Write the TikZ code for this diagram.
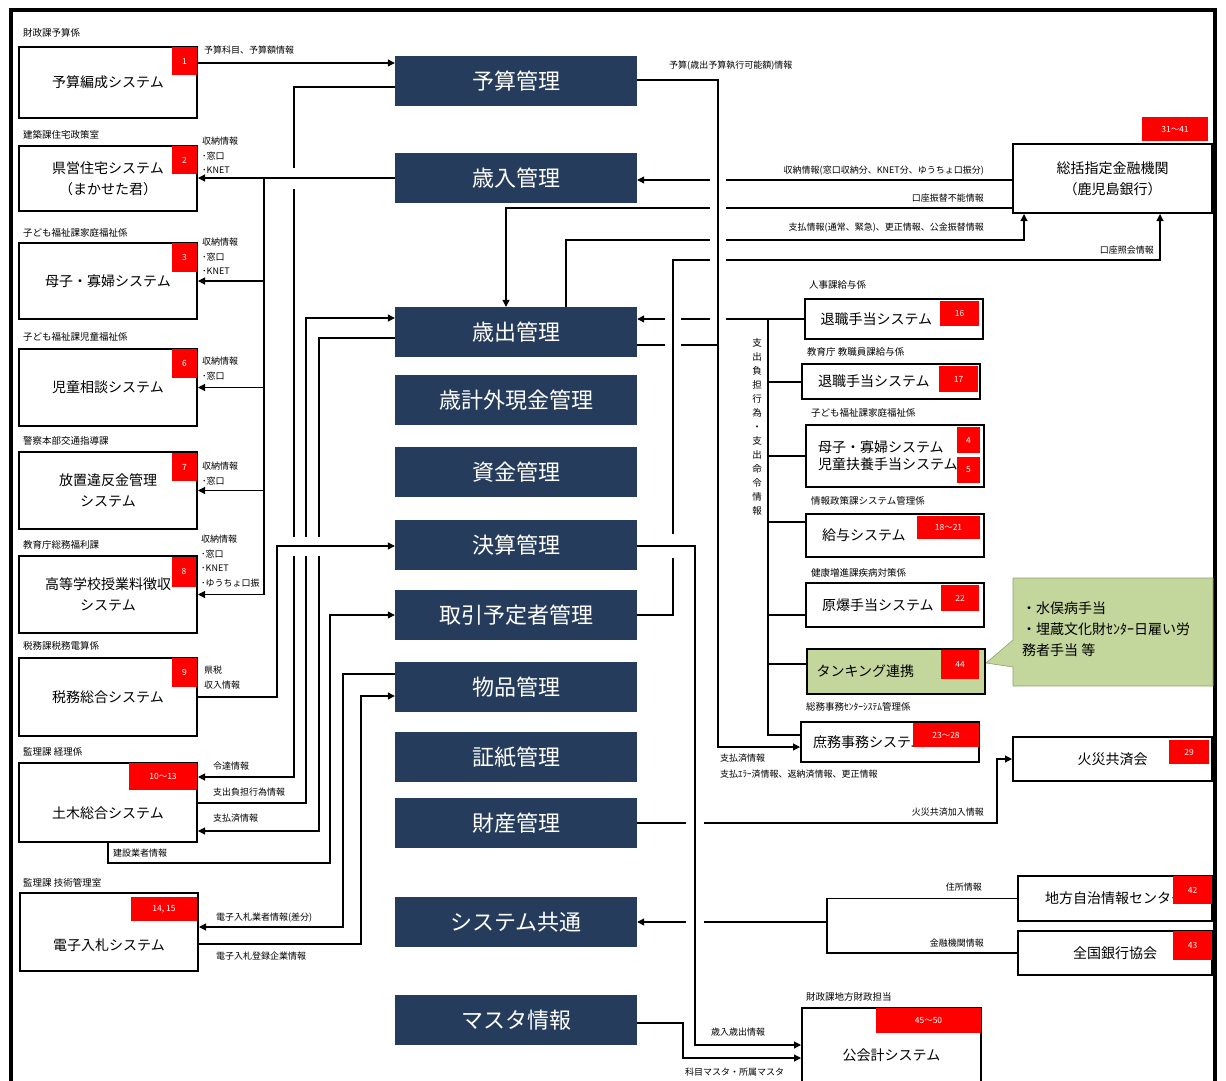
\documentclass[tikz,border=0pt]{standalone}
\usepackage{fontspec}
\setmainfont{Noto Sans CJK JP}
\usetikzlibrary{arrows.meta}
\definecolor{navy}{RGB}{38,60,92}
\definecolor{tagred}{RGB}{255,0,0}
\definecolor{tgreen}{RGB}{195,214,155}
\begin{document}
\begin{tikzpicture}[x=1pt, y=-1pt, >={Triangle[length=7pt,width=7pt]},
	conn/.style={line width=1.1pt},
	bridge/.style={white, line width=#1},
	mgmt/.style={fill=navy, text=white, minimum width=242pt, minimum height=50pt, inner sep=0pt, font=\fontsize{22}{24}\selectfont},
	sysbox/.style={draw, line width=2pt, fill=white, minimum width=178pt, inner sep=0pt, align=center, font=\fontsize{14}{21}\selectfont},
	systxt/.style={inner sep=0pt, font=\fontsize{14}{21}\selectfont},
	rbox/.style={sysbox, text width=146pt, inner xsep=16pt, align=left},
	tag/.style={fill=tagred, text=white, inner sep=0pt, font=\fontsize{8.5}{10}\selectfont},
	dept/.style={anchor=west, inner sep=1pt, font=\fontsize{9.5}{11}\selectfont},
	info/.style={inner sep=1pt, align=left, font=\fontsize{9}{14.5}\selectfont}]
	\useasboundingbox (0,0) rectangle (1226,1081);
	%frame
	\draw[line width=4pt] (11,10) rectangle (1215,1100);
	
	%management functions
	\foreach \n/\y/\t in {yosan/81/予算管理, sainyu/178/歳入管理, saishutsu/332/歳出管理, saikei/400/歳計外現金管理, shikin/472/資金管理, kessan/545/決算管理, torihiki/615/取引予定者管理, buppin/687/物品管理, shoshi/757/証紙管理, zaisan/823/財産管理, kyotsu/922/システム共通, master/1020/マスタ情報}
		\node[mgmt] (\n) at (516,\y) {\t};
	
	%left systems
	\node[sysbox, minimum height=71pt] (hensei) at (108,82.5) {予算編成システム};
	\node[sysbox, minimum height=65pt] (jutaku) at (108,178.5) {県営住宅システム\\（まかせた君）};
	\node[sysbox, minimum height=76pt] (boshi) at (108,281) {母子・寡婦システム};
	\node[sysbox, minimum height=77pt] (jido) at (108,387.5) {児童相談システム};
	\node[sysbox, minimum height=77pt] (hochi) at (108,490.5) {放置違反金管理\\システム};
	\node[sysbox, minimum height=77pt] (koto) at (108,594.5) {高等学校授業料徴収\\システム};
	\node[sysbox, minimum height=78pt] (zeimu) at (108,697) {税務総合システム};
	\node[sysbox, minimum height=79pt] (doboku) at (108,802.5) {};
	\node[systxt] (doboku-t) at (108,813) {土木総合システム};
	\node[sysbox, minimum height=78pt] (denshi) at (109,932) {};
	\node[systxt] (denshi-t) at (109,945) {電子入札システム};
	
	%right systems
	\node[sysbox, minimum width=199pt, minimum height=69pt] (bank) at (1112.5,178.5) {総括指定金融機関\\（鹿児島銀行）};
	\node[rbox, minimum height=40pt] (tai1) at (893.5,319) {退職手当システム};
	\node[rbox, minimum height=35pt] (tai2) at (891,381.5) {退職手当システム};
	\node[rbox, minimum height=62pt, font=\fontsize{14}{17}\selectfont, inner xsep=12pt, text width=154pt] (fuyo) at (895,456) {母子・寡婦システム\\児童扶養手当システム};
	\node[rbox, minimum height=43pt] (kyuyo) at (895,535.5) {給与システム};
	\node[rbox, minimum height=44pt] (genbaku) at (895,605) {原爆手当システム};
	\draw[fill=tgreen, draw=tgreen!75!black, line width=0.6pt] (1013,578) -- (1213,578) -- (1213,686) -- (1013,686) -- (1013,667) -- (986,663) -- (1013,640) -- cycle;
	\node[anchor=north west, align=left, inner sep=0pt, font=\fontsize{14}{21}\selectfont] (memo) at (1022,602) {・水俣病手当\\・埋蔵文化財ｾﾝﾀｰ日雇い労\\務者手当 等};
	\node[rbox, minimum height=45pt, fill=tgreen, inner xsep=10pt, text width=158pt] (tanking) at (895.5,671.5) {タンキング連携};
	\node[rbox, minimum height=40pt, inner xsep=12pt, text width=154pt] (shomu) at (890,742) {庶務事務システム};
	\node[sysbox, minimum width=199pt, minimum height=44pt] (kasai) at (1112.5,759) {火災共済会};
	\node[sysbox, minimum width=194pt, minimum height=45pt] (chiho) at (1115,898.5) {地方自治情報センター};
	\node[sysbox, minimum width=194pt, minimum height=44pt] (ginko) at (1115,953) {全国銀行協会};
	\node[sysbox, minimum width=179pt, minimum height=94pt] (kokaikei) at (891.5,1055) {公会計システム};
	
	%number tags
	\foreach \n/\x/\y/\w/\h/\t in {t1/184.5/61/25/28/1, t2/184.5/160/25/28/2, t3/184.5/257.5/25/29/3, t6/184.5/363.5/25/29/6, t7/184.5/467/25/28/7, t8/184/571.5/24/30/8, t9/184.5/672.5/25/29/9, t10/163/776.5/68/27/10〜13, t14/164/909/66/24/{14, 15}, t31/1175/129/66/24/31〜41, t16/959.5/313.5/39/25/16, t17/958.5/379/39/26/17, t4/968.5/440/23/26/4, t5/968.5/470/23/26/5, t18/948.5/527.5/63/23/18〜21, t22/960/598/38/26/22, t44/960/664.5/38/29/44, t23/946/735/66/24/23〜28, t29/1189/752/40/24/29, t42/1192.5/890/39/28/42, t43/1192.5/945.5/39/29/43, t45/928.5/1020.5/105/25/45〜50}
		\node[tag, minimum width=\w pt, minimum height=\h pt] (\n) at (\x,\y) {\t};
	
	%department labels
	\foreach \n/\x/\y/\t in {d1/22/33/財政課予算係, d2/22/135/建築課住宅政策室, d3/22/233/子ども福祉課家庭福祉係, d6/22/337/子ども福祉課児童福祉係, d7/22/441/警察本部交通指導課, d8/22/545/教育庁総務福利課, d9/22/646/税務課税務電算係, d10/22/752/監理課 経理係, d14/22/883/監理課 技術管理室, d16/808/285/人事課給与係, d17/806/352/教育庁 教職員課給与係, d4/810/413/子ども福祉課家庭福祉係, d18/810/501/情報政策課システム管理係, d22/810/573/健康増進課疾病対策係, d23/805/707/総務事務ｾﾝﾀｰｼｽﾃﾑ管理係, d45/805/997/財政課地方財政担当}
		\node[dept] (\n) at (\x,\y) {\t};
	
	%connectors, left side
	\draw[conn,->] (hensei.east |- 0,63) -- (yosan.west |- 0,63);
	\draw[conn,->] (yosan.west |- 0,87) -| (294,777) -- (doboku.east |- 0,777);
	\draw[conn,->] (sainyu.west) -- (jutaku.east |- sainyu.west);
	\coordinate (rbus) at (264,178);
	\draw[conn] (rbus) -- (rbus |- koto.east);
	\foreach \b in {boshi,jido,hochi,koto}
		\draw[conn,->] (rbus |- \b.east) -- (\b.east);
	\draw[conn,->] (doboku.east |- 0,803) -| (306,318) -- (saishutsu.west |- 0,318);
	\draw[conn,->] (saishutsu.west |- 0,338) -| (319,831) -- (doboku.east |- 0,831);
	\draw[conn,->] (zeimu.east) -| (277,546) -- (kessan.west |- 0,546);
	\draw[conn,->] (doboku.south) |- (330,863) |- (torihiki.west |- 0,615);
	\draw[conn,->] (buppin.west |- 0,674) -| (343,927) -- (denshi.east |- 0,927);
	\draw[conn,->] (denshi.east |- 0,944) -| (361,696) -- (buppin.west |- 0,696);
	
	%connectors, right side
	\draw[conn,->] (yosan.east |- 0,80) -| (718,747) -- (shomu.west |- 0,747);
	\draw[conn] (saishutsu.east |- 0,345) -- (718,345);
	\draw[conn,->] (bank.west |- 0,180) -- (sainyu.east |- 0,180);
	\draw[conn,->] (bank.west |- 0,208) -| ([xshift=-10pt]saishutsu.north);
	\draw[conn,->] ([xshift=50pt]saishutsu.north) |- (1024,240) -- (bank.south -| 1024,0);
	\draw[conn,->] (torihiki.east) -| (673,260) -| (bank.south -| 1160,0);
	\draw[conn,->] (tai1.west) -- (saishutsu.east |- tai1.west);
	\coordinate (tbus) at (768,319);
	\draw[conn] (tbus) |- (shomu.west |- 0,735);
	\foreach \b/\y in {tai2/382,fuyo/456,kyuyo/522,genbaku/615,tanking/664}
		\draw[conn] (tbus |- 0,\y) -- (\b.west |- 0,\y);
	\draw[conn,->] (kessan.east |- 0,546) -| (695,1045) -- (kokaikei.west |- 0,1045);
	\draw[conn,->] (master.east |- 0,1023) -| (683,1058) -- (kokaikei.west |- 0,1058);
	\draw[conn,->] (zaisan.east) -| (997,759) -- (kasai.west);
	\coordinate (jbus) at (827,922);
	\draw[conn,->] (jbus) -- (kyotsu.east);
	\draw[conn] (chiho.west) -| (jbus |- 0,953) -- (ginko.west |- 0,953);
	
	%bridges
	\fill[white] (290,168) rectangle (298,189);
	\draw[conn] (284,178) -- (306,178);
	\fill[white] (287,537) rectangle (326,556);
	\draw[conn] (282,546) -- (330,546);
	\draw[bridge=16pt] (718,172) -- (718,330);
	\draw[conn] (718,168) -- (718,334);
	\draw[bridge=16pt] (673,313) -- (673,353);
	\draw[conn] (673,311) -- (673,355);
	\draw[bridge=4pt] (673,534) -- (673,558);
	\draw[conn] (660,546) -- (690,546);
	\draw[bridge=18pt] (695,815) -- (695,931);
	\draw[conn] (695,813) -- (695,933);
	
	%line labels
	\node[info, anchor=west] (i1) at (203,50) {予算科目、予算額情報};
	\node[info, anchor=south west] (i2) at (201,175) {収納情報\\･窓口\\･KNET};
	\node[info, anchor=south west] (i3) at (201,276) {収納情報\\･窓口\\･KNET};
	\node[info, anchor=south west] (i6) at (201,381) {収納情報\\･窓口};
	\node[info, anchor=south west] (i7) at (201,486) {収納情報\\･窓口};
	\node[info, anchor=south west] (i8) at (200,588) {収納情報\\･窓口\\･KNET\\･ゆうちょ口振};
	\node[info, anchor=south west] (i9) at (203,690) {県税\\収入情報};
	\node[info, anchor=west] (i10) at (212,766) {令達情報};
	\node[info, anchor=west] (i11) at (212,792) {支出負担行為情報};
	\node[info, anchor=west] (i12) at (212,818) {支払済情報};
	\node[info, anchor=west] (i13) at (112,853) {建設業者情報};
	\node[info, anchor=west] (i14) at (215,918) {電子入札業者情報(差分)};
	\node[info, anchor=west] (i15) at (215,956) {電子入札登録企業情報};
	\node[info, anchor=west] (i16) at (668,66) {予算(歳出予算執行可能額)情報};
	\node[info, anchor=east] (i17) at (985,171) {収納情報(窓口収納分、KNET分、ゆうちょ口振分)};
	\node[info, anchor=east] (i18) at (985,198) {口座振替不能情報};
	\node[info, anchor=east] (i19) at (985,228) {支払情報(通常、緊急)、更正情報、公金振替情報};
	\node[info, anchor=east] (i20) at (1155,250) {口座照会情報};
	\node[info, anchor=north west, font=\fontsize{9}{16}\selectfont] (i21) at (719,753) {支払済情報\\支払ｴﾗｰ済情報、返納済情報、更正情報};
	\node[info, anchor=east] (i22) at (985,812) {火災共済加入情報};
	\node[info, anchor=east] (i23) at (983,887) {住所情報};
	\node[info, anchor=east] (i24) at (985,943) {金融機関情報};
	\node[info, anchor=west] (i25) at (710,1032) {歳入歳出情報};
	\node[info, anchor=west] (i26) at (684,1072) {科目マスタ・所属マスタ};
	\node[inner sep=0pt, align=center, font=\fontsize{9.5}{14}\selectfont] (vtext) at (757,427) {支\\出\\負\\担\\行\\為\\・\\支\\出\\命\\令\\情\\報};
\end{tikzpicture}
\end{document}
